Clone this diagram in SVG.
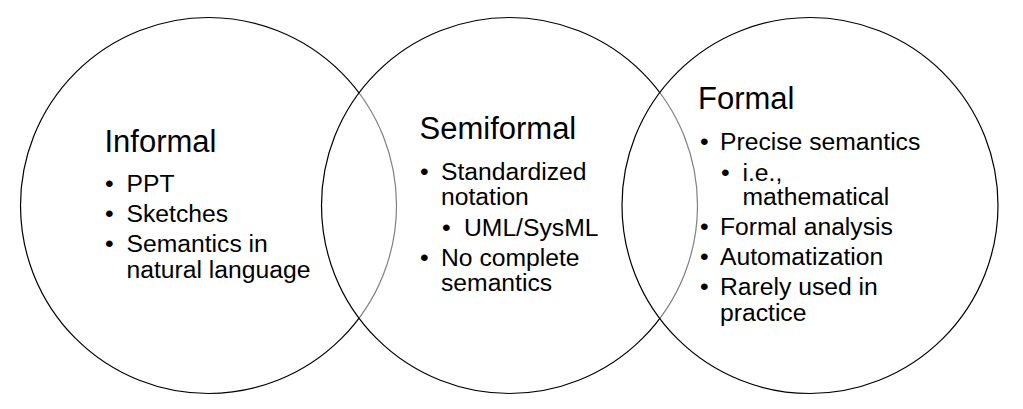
<svg xmlns="http://www.w3.org/2000/svg" width="1023" height="409" viewBox="0 0 1023 409">
<style>
.c{fill:#fff;fill-opacity:0.5;stroke:#000;stroke-width:1.2}
text{font-family:"Liberation Sans",Arial,sans-serif;fill:#000}
.t{font-size:31px}
.b{font-size:24.7px}
</style>
<rect width="1023" height="409" fill="#fff"/>
<g id="informal">
<circle class="c" cx="208.5" cy="205.5" r="188"/>
<text class="t" x="104.5" y="152">Informal</text>
<text class="b" x="105" y="192">•</text><text class="b" x="126.5" y="192">PPT</text>
<text class="b" x="105" y="222">•</text><text class="b" x="126.5" y="222">Sketches</text>
<text class="b" x="105" y="252">•</text><text class="b" x="126.5" y="252">Semantics in</text>
<text class="b" x="126.5" y="278">natural language</text>
</g>
<g id="semiformal">
<circle class="c" cx="509.5" cy="205.5" r="188"/>
<text class="t" x="419.5" y="139">Semiformal</text>
<text class="b" x="420" y="180">•</text><text class="b" x="441" y="180">Standardized</text>
<text class="b" x="441" y="205">notation</text>
<text class="b" x="442" y="235.5">•</text><text class="b" x="464" y="235.5">UML/SysML</text>
<text class="b" x="420" y="265.5">•</text><text class="b" x="441" y="265.5">No complete</text>
<text class="b" x="441" y="291">semantics</text>
</g>
<g id="formal">
<circle class="c" cx="810" cy="205.5" r="188"/>
<text class="t" x="698" y="109">Formal</text>
<text class="b" x="700" y="150">•</text><text class="b" x="720" y="150">Precise semantics</text>
<text class="b" x="721" y="181">•</text><text class="b" x="742.5" y="181">i.e.,</text>
<text class="b" x="742.5" y="205">mathematical</text>
<text class="b" x="700" y="235">•</text><text class="b" x="720" y="235">Formal analysis</text>
<text class="b" x="700" y="265">•</text><text class="b" x="720" y="265">Automatization</text>
<text class="b" x="700" y="295">•</text><text class="b" x="720" y="295">Rarely used in</text>
<text class="b" x="720" y="320.5">practice</text>
</g>
<g id="connectors"/>
</svg>
